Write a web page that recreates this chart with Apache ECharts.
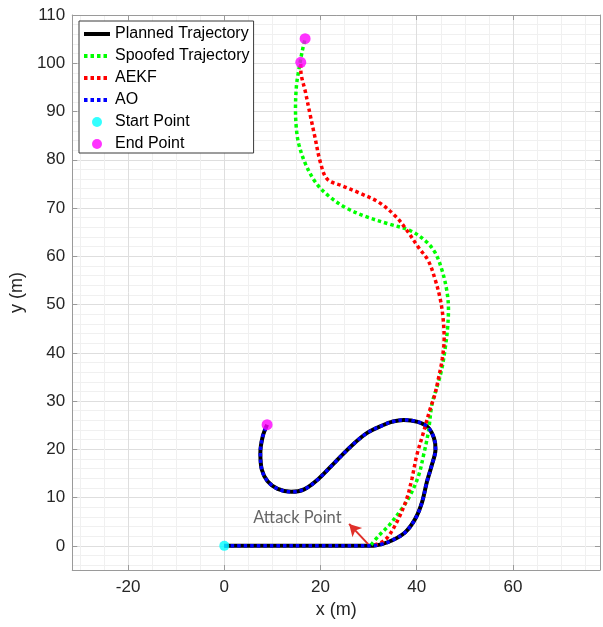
<!DOCTYPE html>
<html><head><meta charset="utf-8">
<script src="https://cdn.jsdelivr.net/npm/echarts@6/dist/echarts.min.js"></script>
<style>html,body{margin:0;padding:0;background:#fff}#c{width:603px;height:627px}</style>
</head><body><div id="c"></div>
<script>
// ---- data ----
const plannedX = [0, 10, 20, 28, 31, 32.6, 34.8, 37.6, 39.7, 41.1, 42.1, 43.1, 43.9, 43.6, 42.3, 40.2, 37.3, 34.8, 33.2, 29.7, 26.3, 22.9, 19.4, 16.6, 13.9, 11.1, 9.0, 7.8, 7.5, 8.0, 8.9];
const plannedY = [0, 0, 0, 0, 0.05, 0.3, 1.1, 2.8, 5.6, 9.0, 13.2, 16.6, 20.0, 22.3, 24.6, 25.7, 26.1, 25.7, 25.1, 23.4, 20.6, 17.2, 13.7, 11.7, 11.2, 11.8, 13.4, 15.8, 19.3, 22.7, 25.1];

const spoofedX = [30.5, 32.1, 34.2, 36.9, 38.6, 40.4, 41.4, 42.4, 43.2, 44.2, 45.2, 45.9, 46.4, 46.6, 46.2, 45.2, 43.8, 41.8, 38.7, 34.2, 29.5, 25.2, 21.7, 19.0, 16.9, 15.5, 15.0, 14.8, 15.0, 15.4, 16.2, 16.8];
const spoofedY = [0.2, 2.1, 4.2, 7.7, 10.4, 14.6, 18.7, 23.5, 29.5, 32.9, 36.6, 40.8, 44.9, 49.1, 53.2, 57.3, 60.8, 63.2, 65.3, 66.7, 68.2, 70.1, 72.5, 75.3, 79.1, 83.2, 86.3, 90.5, 95.3, 98.1, 102.5, 105.1];

const aekfX = [31.2, 32.8, 34.2, 36.2, 37.9, 39.0, 40.0, 41.4, 42.8, 43.7, 44.5, 45.3, 45.7, 45.5, 44.9, 43.8, 42.4, 40.4, 37.8, 35.6, 32.1, 27.9, 24.5, 21.4, 20.0, 18.8, 17.9, 16.9, 15.9, 15.9];
const aekfY = [0.2, 0.8, 2.1, 5.6, 9.7, 13.9, 18.7, 23.5, 28.4, 31.1, 34.6, 38.7, 42.9, 47.0, 51.1, 55.3, 59.1, 61.8, 65.6, 68.3, 71.2, 73.2, 74.6, 76.0, 79.4, 84.9, 89.1, 93.9, 98.8, 100.2];

const startPoint = [[0, 0]];
const endPoints = [[8.9, 25.1], [16.8, 105.1], [15.9, 100.2]];

const attackLabel = 'Attack Point';
const attackLabelPos = [15.2, 5.8];
const attackArrowFrom = [29.9, 0.35];
const attackArrowTo = [25.95, 4.55];

const seriesNames = ['Planned Trajectory', 'Spoofed Trajectory', 'AEKF', 'AO', 'Start Point', 'End Point'];
const xTickLabels = [-20, 0, 20, 40, 60];
const yTickLabels = [0, 10, 20, 30, 40, 50, 60, 70, 80, 90, 100, 110];
const xRange = [-31.6, 78.1];
const yRange = [-5, 110];
const xTitle = 'x (m)';
const yTitle = 'y (m)';

// ---- build ----
const zip = (a, b) => a.map((v, i) => [v, b[i]]);
const FONT = '"Liberation Sans", Arial, sans-serif';
const AX = '#9a9a9a';
const dots = [3.5, 3];

function axisBase(isX, main) {
  const ticks = isX ? xTickLabels : yTickLabels;
  return {
    type: 'value',
    min: (isX ? xRange : yRange)[0],
    max: (isX ? xRange : yRange)[1],
    minInterval: isX ? 20 : 10,
    maxInterval: isX ? 20 : 10,
    position: isX ? (main ? 'bottom' : 'top') : (main ? 'left' : 'right'),
    name: main ? (isX ? xTitle : yTitle) : '',
    nameLocation: 'middle',
    nameGap: isX ? 26 : 33,
    nameTextStyle: { fontFamily: FONT, fontSize: 18, color: '#262626' },
    axisLine: { show: true, onZero: false, lineStyle: { color: AX, width: 1 } },
    axisTick: { show: true, inside: true, length: 5, lineStyle: { color: AX } },
    axisLabel: {
      show: main, fontFamily: FONT, fontSize: 17, color: '#262626', margin: isX ? 9 : 7,
      formatter: v => (ticks.some(t => Math.abs(t - v) < 1e-6) ? String(v) : '')
    },
    splitLine: { show: main, lineStyle: { color: '#dedede', width: 1 } },
    minorTick: { show: false, splitNumber: isX ? 4 : 5 },
    minorSplitLine: { show: main, lineStyle: { color: '#f0f0f0', width: 1 } }
  };
}

const lineSeriesCount = 4;
const legendData = seriesNames.map((n, i) => i < lineSeriesCount ? { name: n, itemStyle: { opacity: 0 } } : { name: n });

const chart = echarts.init(document.getElementById('c'), null, { renderer: 'canvas' });
chart.setOption({
  animation: false,
  backgroundColor: '#fff',
  grid: { left: 72, right: 1, top: 15, bottom: 57, containLabel: false },
  xAxis: [axisBase(true, true), axisBase(true, false)],
  yAxis: [axisBase(false, true), axisBase(false, false)],
  legend: {
    data: legendData,
    orient: 'vertical',
    left: 79, top: 21,
    padding: [5, 4, 1, 3],
    itemWidth: 26, itemHeight: 10, itemGap: 6,
    backgroundColor: '#fff',
    borderColor: '#3a3a3a', borderWidth: 1,
    lineStyle: { width: 4 },
    textStyle: { fontFamily: FONT, fontSize: 16, lineHeight: 16, color: '#000' },
    selectedMode: false
  },
  series: [
    { name: seriesNames[0], type: 'line', data: zip(plannedX, plannedY), showSymbol: false, symbol: 'none', smooth: 0.35,
      lineStyle: { color: '#000', width: 4 }, itemStyle: { color: '#000' }, z: 2 },
    { name: seriesNames[1], type: 'line', data: zip(spoofedX, spoofedY), showSymbol: false, symbol: 'none', smooth: 0.35,
      lineStyle: { color: '#00ff00', width: 3.5, type: dots }, itemStyle: { color: '#00ff00' }, z: 3 },
    { name: seriesNames[2], type: 'line', data: zip(aekfX, aekfY), showSymbol: false, symbol: 'none', smooth: 0.35,
      lineStyle: { color: '#ff0000', width: 3.5, type: dots }, itemStyle: { color: '#ff0000' }, z: 4 },
    { name: seriesNames[3], type: 'line', data: zip(plannedX, plannedY), showSymbol: false, symbol: 'none', smooth: 0.35,
      lineStyle: { color: '#0000ff', width: 3.5, type: dots }, itemStyle: { color: '#0000ff' }, z: 5 },
    { name: seriesNames[4], type: 'scatter', data: startPoint, symbol: 'circle', symbolSize: 10,
      itemStyle: { color: '#00ffff' }, z: 6 },
    { name: seriesNames[5], type: 'scatter', data: endPoints, symbol: 'circle', symbolSize: 11,
      itemStyle: { color: '#ff00ff' }, z: 7 },
    { name: 'annotation', type: 'scatter', data: [attackLabelPos], symbolSize: 0, z: 8,
      label: { show: true, position: 'inside', formatter: attackLabel, fontFamily: 'Lato, "Open Sans", sans-serif', fontSize: 16.5, color: '#404040' },
      markLine: {
        silent: true, symbol: ['none', 'arrow'], symbolSize: [10, 12],
        lineStyle: { color: '#e0302a', width: 2, type: 'solid' },
        label: { show: false },
        data: [[{ coord: attackArrowFrom }, { coord: attackArrowTo }]]
      }
    }
  ]
});
</script>
</body></html>
